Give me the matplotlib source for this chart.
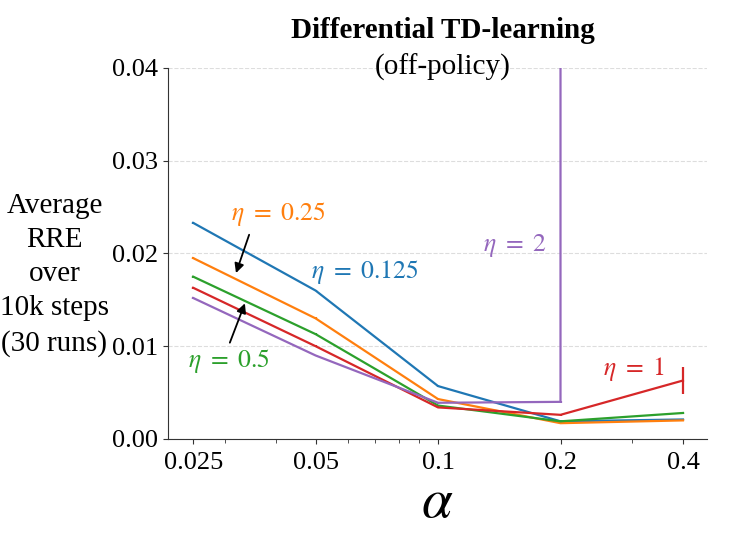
import numpy as np
import matplotlib
matplotlib.use("Agg")
import matplotlib.pyplot as plt

plt.rcParams['font.family'] = ['Liberation Serif', 'DejaVu Serif']
plt.rcParams['mathtext.fontset'] = 'stix'

# step sizes and results per eta
alphas = [0.025, 0.05, 0.1, 0.2, 0.4]
eta_labels = ['0.125', '0.25', '0.5', '1', '2']
colors = ['#1f77b4', '#ff7f0e', '#2ca02c', '#d62728', '#9467bd']
rre_0125 = [0.0233, 0.0160, 0.0057, 0.0019, 0.0021]
rre_025 = [0.0195, 0.0130, 0.0043, 0.0017, 0.0020]
rre_05 = [0.0175, 0.0113, 0.0036, 0.0019, 0.0028]
rre_1 = [0.0163, 0.0100, 0.0034, 0.0026, 0.0063]
rre_2 = [0.0152, 0.0090, 0.0039, 0.0040, 1000.0]
err_1 = [0.0001, 0.0001, 0.0001, 0.0001, 0.0015]
err_small = [0.0001, 0.0001, 0.0001, 0.0001, 0.0001]

series = [rre_0125, rre_025, rre_05, rre_1, rre_2]
errs = [err_small, err_small, err_small, err_1, [0.0001, 0.0001, 0.0001, 0.0001, 0.0]]

fig = plt.figure(figsize=(7.31, 5.48), dpi=100)
ax = fig.add_axes([0.230, 0.199, 0.737, 0.677])

for vals, e, c in zip(series, errs, colors):
    ax.errorbar(alphas, vals, yerr=e, color=c, lw=1.6, elinewidth=1.6, capsize=0)

ax.set_xscale('log')
ax.set_xlim(0.0217, 0.458)
ax.set_ylim(0, 0.04)
ax.set_xticks(alphas)
ax.set_xticklabels(['0.025', '0.05', '0.1', '0.2', '0.4'])
ax.set_yticks([0, 0.01, 0.02, 0.03, 0.04])
ax.set_yticklabels(['0.00', '0.01', '0.02', '0.03', '0.04'])
ax.tick_params(labelsize=19, color='#333333')
ax.tick_params(axis='x', pad=6)
ax.tick_params(which='minor', length=3, color='#333333')
ax.grid(axis='y', ls='--', color='#dddddd', lw=0.8)
ax.set_axisbelow(True)
for s in ['top', 'right']:
    ax.spines[s].set_visible(False)
for s in ['left', 'bottom']:
    ax.spines[s].set_color('#333333')

ax.set_xlabel(r'$\alpha$', fontsize=40, labelpad=2)
ax.set_ylabel('Average\nRRE\nover\n10k steps\n(30 runs)', rotation=0,
              fontsize=21, ha='center', va='center', labelpad=0, linespacing=1.4)
ax.yaxis.set_label_coords(-0.211, 0.442)

fig.text(0.606, 0.945, 'Differential TD-learning', fontsize=21, fontweight='bold',
         ha='center', va='center')
fig.text(0.606, 0.877, '(off-policy)', fontsize=21, ha='center', va='center')

# labels
fs = 18.5
ax.text(0.0405, 0.0242, r'$\eta\ =\ 0.25$', color=colors[1], fontsize=fs, ha='center', va='center')
ax.annotate('', xy=(0.0317, 0.0176), xytext=(0.0345, 0.0223),
            arrowprops=dict(arrowstyle='-|>', color='black', lw=1.3, mutation_scale=14))
ax.text(0.0307, 0.0084, r'$\eta\ =\ 0.5$', color=colors[2], fontsize=fs, ha='center', va='center')
ax.annotate('', xy=(0.0337, 0.0149), xytext=(0.0306, 0.0101),
            arrowprops=dict(arrowstyle='-|>', color='black', lw=1.3, mutation_scale=14))
ax.text(0.0662, 0.0180, r'$\eta\ =\ 0.125$', color=colors[0], fontsize=fs, ha='center', va='center')
ax.text(0.1546, 0.0209, r'$\eta\ =\ 2$', color=colors[4], fontsize=fs, ha='center', va='center')
ax.text(0.303, 0.0075, r'$\eta\ =\ 1$', color=colors[3], fontsize=fs, ha='center', va='center')

fig.savefig('out.png', dpi=100)
